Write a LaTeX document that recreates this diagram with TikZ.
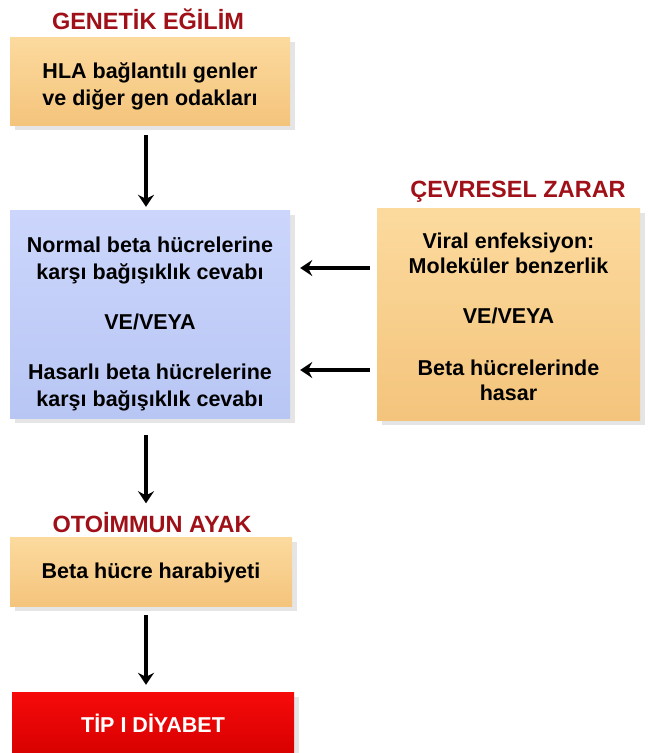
\documentclass[tikz,border=0pt]{standalone}
\usepackage{fontspec}
\setmainfont{Liberation Sans}
\usetikzlibrary{arrows.meta,shadows}

\definecolor{turuncuUst}{RGB}{252,218,158}
\definecolor{turuncuAlt}{RGB}{244,196,124}
\definecolor{maviUst}{RGB}{204,214,252}
\definecolor{maviAlt}{RGB}{184,198,244}
\definecolor{kirmiziUst}{RGB}{246,10,10}
\definecolor{kirmiziAlt}{RGB}{214,0,0}
\definecolor{baslikRenk}{RGB}{160,16,24}

\tikzset{
  kutu/.style={draw=none,
    drop shadow={opacity=0.2, shadow xshift=5pt, shadow yshift=-5pt}},
  turuncu/.style={kutu, top color=turuncuUst, bottom color=turuncuAlt},
  mavi/.style={kutu, top color=maviUst, bottom color=maviAlt},
  kirmizi/.style={kutu, top color=kirmiziUst, bottom color=kirmiziAlt},
  metin/.style={align=center, text=black, font=\bfseries\fontsize{21.5}{27}\selectfont},
  baslik/.style={text=baslikRenk, font=\bfseries\fontsize{23.5}{26}\selectfont},
  ok/.style={-{Stealth[length=12pt,width=16pt,inset=4pt]}, line width=4pt}
}

\begin{document}
\begin{tikzpicture}[x=1pt,y=-1pt]
  \useasboundingbox[fill=white] (0,0) rectangle (652,753);

  % sol sutun
  \node[baslik] (genBaslik) at (148,19) {GENETİK EĞİLİM};
  \node[turuncu, minimum width=280pt, minimum height=88pt] (hla) at (150,81) {};
  \node[metin] (hlaMetin) at ([yshift=-5.5pt]hla.center)
    {HLA bağlantılı genler\\ve diğer gen odakları};

  \node[mavi, minimum width=280pt, minimum height=208pt] (bagisik) at (150,314) {};
  \node[metin] (bagisikMetin) at ([yshift=-9.5pt]bagisik.center)
    {Normal beta hücrelerine\\karşı bağışıklık cevabı\\[23pt]VE/VEYA\\[23pt]Hasarlı beta hücrelerine\\karşı bağışıklık cevabı};

  \node[baslik] (otoBaslik) at (152,523) {OTOİMMUN AYAK};
  \node[turuncu, minimum width=282pt, minimum height=69pt] (yikim) at (151,571.5) {};
  \node[metin] (yikimMetin) at ([yshift=-1.5pt]yikim.center) {Beta hücre harabiyeti};

  \node[kirmizi, minimum width=282pt, minimum height=66pt] (tip) at (153,725) {};
  \node[metin, text=white] (tipMetin) at ([yshift=1.5pt]tip.center) {TİP I DİYABET};

  % sag sutun
  \node[baslik] (cevreBaslik) at (518,192) {ÇEVRESEL ZARAR};
  \node[turuncu, minimum width=263pt, minimum height=212pt] (cevre) at (508.5,314) {};
  \node[metin, font=\bfseries\fontsize{21.5}{25}\selectfont] (cevreMetin) at ([yshift=-3pt]cevre.center)
    {Viral enfeksiyon:\\Moleküler benzerlik\\[25pt]VE/VEYA\\[27pt]Beta hücrelerinde\\hasar};

  % oklar
  \coordinate (okA) at (0,268);
  \coordinate (okB) at (0,370);
  \draw[ok, shorten <=10pt, shorten >=3pt] ([xshift=-4pt]hla.south) -- ([xshift=-4pt]bagisik.north);
  \draw[ok, shorten <=17pt, shorten >=6pt] ([xshift=-4pt]bagisik.south) -- ([xshift=-4pt]bagisik.south |- otoBaslik.north);
  \draw[ok, shorten <=9pt, shorten >=7pt] ([xshift=-5pt]yikim.south) -- ([xshift=-5pt]yikim.south |- tip.north);
  \draw[ok, shorten <=7pt, shorten >=10pt] (okA -| cevre.west) -- (okA -| bagisik.east);
  \draw[ok, shorten <=7pt, shorten >=10pt] (okB -| cevre.west) -- (okB -| bagisik.east);
\end{tikzpicture}
\end{document}
